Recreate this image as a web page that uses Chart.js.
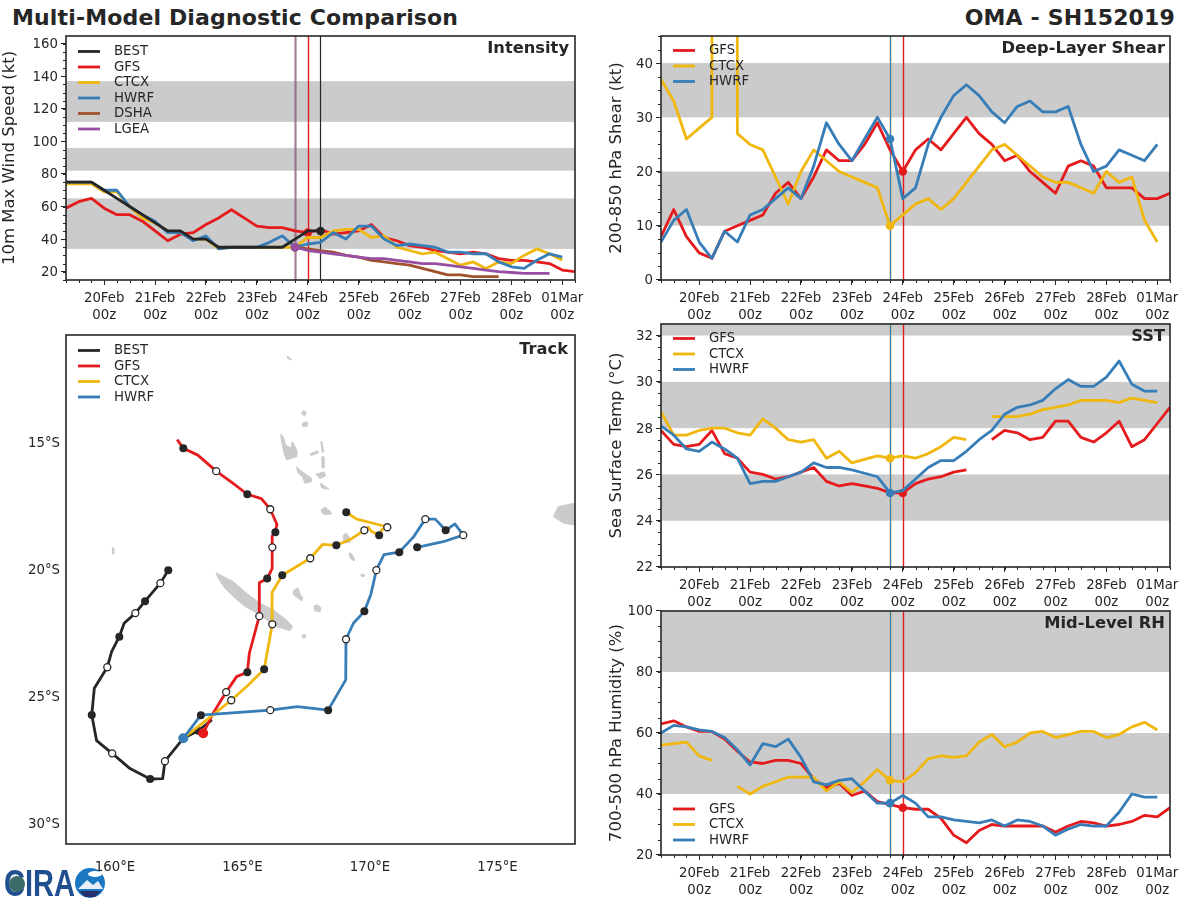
<!DOCTYPE html>
<html>
<head>
<meta charset="utf-8">
<title>Multi-Model Diagnostic Comparison</title>
<script src="https://cdn.jsdelivr.net/npm/chart.js@4"></script>
<style>
  html, body { margin: 0; padding: 0; background: #fff; }
  body { position: relative; width: 1200px; height: 900px; overflow: hidden; font-family: 'DejaVu Sans', sans-serif; color: #262626; }
  canvas { position: absolute; }
  .headline { position: absolute; top: 4px; font-size: 22px; font-weight: bold; line-height: 28px; white-space: nowrap; letter-spacing: 0.15px; }
  #logo { position: absolute; left: 3px; top: 866px; }
</style>
</head>
<body>
<div class="headline" style="left:12px">Multi-Model Diagnostic Comparison</div>
<div class="headline" style="right:25px">OMA - SH152019</div>
<canvas id="intensityChart" style="left:0;top:25px" width="600" height="296"></canvas>
<canvas id="trackChart" style="left:0;top:321px" width="600" height="579"></canvas>
<canvas id="shearChart" style="left:600px;top:25px" width="600" height="296"></canvas>
<canvas id="sstChart" style="left:600px;top:313px" width="600" height="296"></canvas>
<canvas id="rhChart" style="left:600px;top:600px" width="600" height="296"></canvas>
<svg id="logo" width="105" height="33" viewBox="0 0 105 33">
  <text x="1" y="30" font-family="Liberation Sans" font-weight="bold" font-size="37" fill="#1f4f8f" textLength="71" lengthAdjust="spacingAndGlyphs">CIRA</text>
  <circle cx="14" cy="18" r="8" fill="#3d6a6a"/>
  <circle cx="87" cy="17" r="15" fill="#1b79c4"/>
  <ellipse cx="92" cy="8" rx="7" ry="3" fill="#fff"/>
  <path d="M75 23 L84 14 L90 19 L95 15 L100 23 Z" fill="#e8eef5"/>
  <path d="M76 25 H98 L92 31 H82 Z" fill="#27306b"/>
</svg>

<script>
Chart.defaults.font.family = "'DejaVu Sans', sans-serif";
Chart.defaults.font.size = 13.3;
Chart.defaults.color = '#262626';
Chart.defaults.animation = false;

const dark_color = '#262626';
const band_color = '#cbcbcb';
const best_color = '#262626';
const gfs_color = '#e41a1c';
const ctcx_color = '#f0b70e';
const hwrf_color = '#377eb8';
const dsha_color = '#a0522d';
const lgea_color = '#984ea3';

// hours after 20Feb 00z, one value every 6h
const hours = [-18, -12, -6, 0, 6, 12, 18, 24, 30, 36, 42, 48, 54, 60, 66, 72, 78, 84, 90, 96, 102,
  108, 114, 120, 126, 132, 138, 144, 150, 156, 162, 168, 174, 180, 186, 192, 198, 204, 210, 216, 222];
const dayHours = [0, 24, 48, 72, 96, 120, 144, 168, 192, 216];
const dayLabels = ['20Feb', '21Feb', '22Feb', '23Feb', '24Feb', '25Feb', '26Feb', '27Feb', '28Feb', '01Mar'];
const runLabel = '00z';

// Intensity (kt)
const intensity_best = [75, 75, 75, 70, 65, 60, 55, 50, 45, 45, 40, 40, 35, 35, 35, 35, 35, 35, 40, 45, 45];
const intensity_gfs = [59, 63, 65, 59, 55, 55, 51, 45, 39, 43, 44, 49, 53, 58, 53, 48, 47, 47, 45, 44, 46,
  43, 44, 45, 49, 41, 39, 36, 35, 33, 32, 31, 32, 31, 28, 27, 27, 26, 25, 21, 20];
const intensity_ctcx = [74, 74, 74, 69, 69, 60, 53, 50, 45, 44, 40, 40, 34, 35, 35, 35, 35, 35, 35, 41, 41,
  45, 46, 46, 41, 42, 35, 33, 31, 32, 28, 24, 26, 22, 26, 25, 30, 34, 31, 27];
const intensity_hwrf = [75, 75, 75, 70, 70, 60, 55, 51, 44, 44, 39, 42, 34, 35, 35, 35, 38, 42, 35, 37, 38,
  44, 40, 48, 48, 40, 36, 37, 36, 35, 32, 32, 31, 31, 26, 23, 22, 27, 31, 29];
const intensity_dsha = [null, null, null, null, null, null, null, null, null, null, null, null, null, null, null, null, null, null,
  35, 34, 33, 32, 30, 29, 27, 26, 25, 24, 22, 20, 18, 18, 17, 17, 17];
const intensity_lgea = [null, null, null, null, null, null, null, null, null, null, null, null, null, null, null, null, null, null,
  35, 33, 32, 31, 30, 29, 28, 28, 27, 26, 25, 25, 24, 23, 22, 21, 20, 19.5, 19, 19, 19];
const intensity_bands = [[34, 65], [82, 96], [112, 137]];

// Deep-layer shear (kt), 9999 is the missing value flag in the CTCX file
const shear_gfs = [8, 13, 8, 5, 4, 9, 10, 11, 12, 16, 18, 15, 19, 24, 22, 22, 25, 29, 24, 20, 24,
  26, 24, 27, 30, 27, 25, 22, 23, 20, 18, 16, 21, 22, 21, 17, 17, 17, 15, 15, 16];
const shear_ctcx = [37, 33, 26, 28, 30, 9999, 27, 25, 24, 19, 14, 20, 24, 22, 20, 19, 18, 17, 10, 12, 14,
  15, 13, 15, 18, 21, 24, 25, 23, 21, 19, 18, 18, 17, 16, 20, 18, 19, 11, 7];
const shear_hwrf = [7, 11, 13, 7, 4, 9, 7, 12, 13, 15, 17, 15, 21, 29, 25, 22, 26, 30, 26, 15, 17,
  25, 30, 34, 36, 34, 31, 29, 32, 33, 31, 31, 32, 25, 20, 21, 24, 23, 22, 25];
const shear_bands = [[10, 20], [30, 40]];

// SST (deg C)
const sst_gfs = [27.9, 27.3, 27.2, 27.3, 27.9, 26.9, 26.7, 26.1, 26.0, 25.8, 25.9, 26.1, 26.3, 25.7, 25.5, 25.6, 25.5, 25.4, 25.2, 25.2, 25.6,
  25.8, 25.9, 26.1, 26.2, null, 27.5, 27.9, 27.8, 27.5, 27.6, 28.3, 28.3, 27.6, 27.4, 27.8, 28.3, 27.2, 27.5, 28.2, 28.9];
const sst_ctcx = [28.7, 27.7, 27.7, 27.9, 28.0, 28.0, 27.8, 27.7, 28.4, 28.0, 27.5, 27.4, 27.5, 26.7, 27.0, 26.5, 26.65, 26.8, 26.7, 26.8, 26.7,
  26.9, 27.2, 27.6, 27.5, null, 28.5, 28.5, 28.5, 28.6, 28.8, 28.9, 29.0, 29.2, 29.2, 29.2, 29.1, 29.3, 29.2, 29.1];
const sst_hwrf = [28.1, 27.7, 27.1, 27.0, 27.4, 27.1, 26.7, 25.6, 25.7, 25.7, 25.9, 26.1, 26.5, 26.3, 26.3, 26.2, 26.05, 25.9, 25.2, 25.3, 25.8,
  26.3, 26.6, 26.6, 27.0, 27.5, 27.9, 28.6, 28.9, 29.0, 29.2, 29.7, 30.1, 29.8, 29.8, 30.2, 30.9, 29.9, 29.6, 29.6];
const sst_bands = [[24, 26], [28, 30], [32, 33]];

// Mid-level RH (%)
const rh_gfs = [63, 64, 62, 60.5, 60.5, 58, 54, 50.5, 50, 51, 51, 50, 45, 42, 43.5, 39.5, 41, 37.5, 36.5, 35.5, 35,
  35, 32, 26.5, 24, 28, 30, 29.5, 29.5, 29.5, 29.5, 27.5, 29.5, 31, 30.5, 29.5, 30, 31, 33, 32.5, 35.5];
const rh_ctcx = [56, 56.5, 57, 52.5, 51, null, 42.5, 40, 42.5, 44, 45.5, 45.5, 45.5, 41, 44, 40.5, 44, 48, 44.5, 44, 47,
  51.5, 52.5, 52, 52.5, 57, 59.5, 55.5, 57, 60, 60.5, 58.5, 59.5, 60.5, 60.5, 58.5, 59.5, 62, 63.5, 61];
const rh_hwrf = [60, 62.5, 62, 61, 60.5, 58.5, 54.5, 49.5, 56.5, 55.5, 58, 52, 44, 43, 44.5, 45, 41, 37, 37, 39.5, 37,
  32.5, 32.5, 31.5, 31, 30.5, 31.5, 29.5, 31.5, 31, 29.5, 26.5, 28.5, 30, 29.5, 29.5, 34, 40, 39, 39];
const rh_bands = [[40, 60], [80, 100]];

// Track positions, marks: 0 none, 1 filled (00z), 2 open (12z), 3 model start
const best_lon = [162.09, 161.78, 161.18, 160.80, 160.36, 160.17, 159.87, 159.70, 159.19, 159.09, 159.28, 159.89, 160.59, 161.38, 161.87, 161.96, 162.68, 163.27, 163.80];
const best_lat = [-20.05, -20.56, -21.27, -21.74, -22.14, -22.67, -23.26, -23.87, -24.70, -25.75, -26.76, -27.26, -27.86, -28.27, -28.26, -27.57, -26.67, -26.37, -25.94];
const best_marks = [1, 2, 1, 2, 0, 1, 0, 2, 0, 1, 0, 2, 0, 1, 0, 2, 0, 1, 0];

const gfs_lon = [163.46, 163.85, 164.36, 164.77, 165.19, 165.27, 165.66, 165.66, 165.97, 166.17, 166.17, 166.16, 166.29, 166.35, 166.09, 165.74, 165.19, 164.58, 163.97, 163.25, 162.68, 162.44];
const gfs_lat = [-26.47, -25.68, -24.85, -24.24, -24.07, -23.32, -21.86, -20.54, -20.38, -19.97, -19.15, -18.70, -18.56, -18.24, -17.65, -17.23, -17.06, -16.59, -16.15, -15.52, -15.25, -14.91];
const gfs_marks = [3, 0, 2, 0, 1, 0, 2, 0, 1, 0, 2, 0, 1, 0, 2, 0, 1, 0, 2, 0, 1, 0];

const ctcx_lon = [162.68, 164.56, 165.23, 165.85, 166.17, 166.16, 166.56, 167.66, 168.15, 168.68, 169.25, 169.78, 169.93, 170.07, 170.36, 170.46, 170.68, 170.55, 169.48, 169.07];
const ctcx_lat = [-26.67, -25.17, -24.57, -23.95, -22.18, -20.93, -20.25, -19.58, -19.03, -19.07, -18.83, -18.48, -18.36, -18.53, -18.67, -18.46, -18.36, -18.31, -18.04, -17.77];
const ctcx_marks = [0, 2, 0, 1, 2, 0, 1, 2, 0, 1, 0, 2, 0, 0, 1, 0, 2, 0, 0, 1];

const hwrf_lon = [162.68, 163.37, 166.09, 167.15, 168.36, 169.05, 169.06, 169.35, 169.78, 170.03, 170.25, 170.55, 171.15, 171.70, 172.17, 172.56, 172.97, 173.33, 173.66, 172.87, 171.85];
const hwrf_lat = [-26.67, -25.76, -25.56, -25.42, -25.56, -24.37, -22.77, -22.14, -21.67, -21.02, -20.05, -19.44, -19.34, -18.75, -18.04, -18.04, -18.48, -18.23, -18.67, -18.93, -19.15];
const hwrf_marks = [3, 1, 2, 0, 1, 0, 2, 0, 1, 0, 2, 0, 1, 0, 2, 0, 1, 0, 2, 0, 1];

// Land outlines as [lon, lat] lists
const land_polygons = [
  [[163.96, -20.15], [164.25, -20.30], [164.64, -20.50], [165.16, -20.96], [165.69, -21.35], [166.21, -21.61], [166.73, -22.01], [166.97, -22.27], [166.86, -22.43], [166.34, -22.27], [165.95, -22.01], [165.56, -21.74], [165.10, -21.48], [164.64, -21.09], [164.31, -20.76], [164.05, -20.37]],
  [[167.02, -20.83], [167.18, -20.75], [167.25, -20.98], [167.37, -21.14], [167.33, -21.26], [167.10, -21.10], [166.98, -20.98]],
  [[167.80, -21.46], [167.96, -21.42], [168.08, -21.54], [168.04, -21.69], [167.84, -21.65]],
  [[167.33, -22.60], [167.49, -22.60], [167.45, -22.72], [167.37, -22.72]],
  [[159.90, -19.17], [159.96, -19.17], [159.96, -19.41], [159.90, -19.41]],
  [[166.50, -14.70], [166.60, -14.79], [166.69, -15.12], [166.90, -15.25], [166.95, -14.99], [167.03, -15.12], [167.15, -15.38], [167.13, -15.58], [166.93, -15.64], [166.73, -15.71], [166.63, -15.44], [166.54, -15.05]],
  [[167.13, -15.97], [167.25, -16.10], [167.42, -16.23], [167.71, -16.43], [167.71, -16.56], [167.45, -16.63], [167.35, -16.37], [167.15, -16.19]],
  [[167.65, -15.47], [167.96, -15.35], [167.97, -15.43], [167.69, -15.54]],
  [[168.07, -14.99], [168.12, -14.99], [168.18, -15.39], [168.14, -15.43]],
  [[168.11, -15.58], [168.20, -15.59], [168.21, -16.02], [168.12, -16.02]],
  [[167.87, -16.27], [168.20, -16.18], [168.26, -16.34], [168.04, -16.44]],
  [[168.07, -16.63], [168.20, -16.73], [168.39, -16.85], [168.20, -16.85], [168.08, -16.77]],
  [[167.31, -13.86], [167.41, -13.76], [167.51, -13.86], [167.43, -13.98]],
  [[167.33, -14.29], [167.45, -14.21], [167.57, -14.25], [167.53, -14.39], [167.37, -14.39]],
  [[166.75, -11.63], [166.86, -11.69], [166.92, -11.77], [166.78, -11.73]],
  [[168.08, -17.68], [168.24, -17.56], [168.43, -17.72], [168.51, -17.83], [168.27, -17.87], [168.12, -17.80]],
  [[168.94, -18.70], [169.06, -18.58], [169.18, -18.74], [169.22, -18.94], [168.98, -18.98]],
  [[169.18, -19.37], [169.29, -19.41], [169.41, -19.65], [169.37, -19.69], [169.22, -19.57]],
  [[169.65, -20.20], [169.80, -20.24], [169.76, -20.31], [169.65, -20.28]],
  [[177.19, -17.94], [177.38, -17.55], [178.02, -17.41], [178.02, -18.27], [177.58, -18.20]]
];

// draws bands, land, vertical lines, minor ticks, spines, panel title and legend
function panelPlugin(cfg) {
  return {
    id: 'panel',
    beforeDatasetsDraw(chart) {
      const { ctx, chartArea: a, scales: { x, y } } = chart;
      ctx.save();
      ctx.fillStyle = band_color;
      ctx.strokeStyle = band_color;
      ctx.lineWidth = 1;
      (cfg.bands || []).forEach(b => {
        const top = Math.max(y.getPixelForValue(b[1]), a.top);
        ctx.fillRect(a.left, top, a.right - a.left, y.getPixelForValue(b[0]) - top);
      });
      (cfg.land || []).forEach(poly => {
        ctx.beginPath();
        poly.forEach((p, i) => {
          const px = x.getPixelForValue(p[0]);
          const py = y.getPixelForValue(p[1]);
          if (i === 0) ctx.moveTo(px, py); else ctx.lineTo(px, py);
        });
        ctx.closePath();
        ctx.fill();
        ctx.stroke();
      });
      (cfg.vlines || []).forEach(v => {
        const px = Math.round(x.getPixelForValue(v.hour) - 0.1) + 0.5;
        ctx.strokeStyle = v.color;
        ctx.lineWidth = v.width || 1.4;
        ctx.beginPath();
        ctx.moveTo(px, a.top);
        ctx.lineTo(px, a.bottom);
        ctx.stroke();
      });
      ctx.restore();
    },
    afterDatasetsDraw(chart) {
      const { ctx, chartArea: a, scales: { x, y } } = chart;
      ctx.save();
      ctx.strokeStyle = dark_color;
      ctx.lineWidth = 1;
      if (cfg.minorStep) {
        ctx.beginPath();
        hours.forEach(h => {
          const px = Math.round(x.getPixelForValue(h)) + 0.5;
          ctx.moveTo(px, a.bottom);
          ctx.lineTo(px, a.bottom + 3);
        });
        for (let v = y.min; v <= y.max; v += 0.01) {
          const r = Math.round(v * 100) / 100;
          if (Math.abs(r / cfg.minorStep - Math.round(r / cfg.minorStep)) < 1e-6) {
            const py = Math.round(y.getPixelForValue(r)) + 0.5;
            ctx.moveTo(a.left - 3, py);
            ctx.lineTo(a.left, py);
          }
        }
        ctx.stroke();
      }
      ctx.lineWidth = 1.6;
      ctx.strokeRect(a.left, a.top, a.right - a.left, a.bottom - a.top);

      ctx.fillStyle = dark_color;
      ctx.font = "bold 16.3px 'DejaVu Sans', sans-serif";
      ctx.textAlign = 'right';
      ctx.textBaseline = 'middle';
      ctx.fillText(cfg.title, a.right - (cfg.titleRight || 5), a.top + cfg.titleOffset);

      ctx.font = "13.3px 'DejaVu Sans', sans-serif";
      ctx.textAlign = 'left';
      chart.data.datasets.forEach((ds, i) => {
        const ly = a.top + cfg.legendTop + i * 15.5;
        ctx.strokeStyle = ds.borderColor;
        ctx.lineWidth = 2.8;
        ctx.beginPath();
        ctx.moveTo(a.left + 12, ly);
        ctx.lineTo(a.left + 34, ly);
        ctx.stroke();
        ctx.fillText(ds.label, a.left + 48, ly + 0.5);
      });
      ctx.restore();
    }
  };
}

function line(label, color, values, markAt, zorder) {
  return {
    label: label,
    data: values.map((v, i) => ({ x: hours[i], y: v })),
    borderColor: color,
    backgroundColor: color,
    borderWidth: 2.8,
    borderJoinStyle: 'round',
    tension: 0,
    spanGaps: false,
    pointBorderWidth: 0,
    pointRadius: (c) => c.dataIndex === markAt ? 4.3 : 0,
    order: zorder
  };
}

function hourAxis(axisHeight) {
  return {
    type: 'linear',
    min: -18,
    max: 222,
    grid: { drawOnChartArea: false, tickLength: 5, tickColor: dark_color },
    border: { display: false },
    afterBuildTicks: (s) => { s.ticks = dayHours.map(h => ({ value: h })); },
    ticks: {
      autoSkip: false,
      maxRotation: 0,
      padding: 5,
      font: { lineHeight: 1.28 },
      callback: (v) => [dayLabels[dayHours.indexOf(v)], runLabel]
    },
    afterFit: (s) => { s.height = axisHeight; }
  };
}

function valueAxis(title, min, max, step, width, titlePad) {
  return {
    min: min,
    max: max,
    grid: { drawOnChartArea: false, tickLength: 5, tickColor: dark_color },
    border: { display: false },
    ticks: { stepSize: step, includeBounds: false, padding: 3, labelOffset: 1 },
    title: { display: true, text: title, font: { size: 16.5 }, color: dark_color, padding: { top: titlePad, bottom: 0 } },
    afterFit: (s) => { s.width = width; }
  };
}

function timeChart(id, datasets, yAxis, cfg, rightPad, axisHeight) {
  return new Chart(document.getElementById(id), {
    type: 'scatter',
    data: { datasets: datasets.map(d => Object.assign(d, { showLine: true })) },
    options: {
      responsive: false,
      layout: { autoPadding: false, padding: { top: 5, right: rightPad, left: 0, bottom: 0 } },
      plugins: { legend: { display: false }, tooltip: { enabled: false } },
      scales: { x: hourAxis(axisHeight), y: yAxis }
    },
    plugins: [panelPlugin(cfg)]
  });
}

timeChart('intensityChart', [
  line('BEST', best_color, intensity_best, 20, 0),
  line('GFS', gfs_color, intensity_gfs, 19, 5),
  line('CTCX', ctcx_color, intensity_ctcx, 18, 4),
  line('HWRF', hwrf_color, intensity_hwrf, 18, 3),
  line('DSHA', dsha_color, intensity_dsha, 18, 2),
  line('LGEA', lgea_color, intensity_lgea, 18, 1)
], valueAxis('10m Max Wind Speed (kt)', 14.9, 164.7, 20, 66, 0), {
  title: 'Intensity', titleOffset: 13, titleRight: 6, legendTop: 15.5, minorStep: 5, bands: intensity_bands,
  vlines: [
    { hour: 90, color: 'rgba(55,126,184,0.3)', width: 2 },
    { hour: 90, color: 'rgba(160,82,45,0.45)', width: 2 }, { hour: 90, color: 'rgba(152,78,163,0.35)', width: 2 },
    { hour: 96, color: gfs_color }, { hour: 102, color: best_color, width: 1.2 }
  ]
}, 25, 41);

const modelLines = [
  { hour: 90, color: 'rgba(240,183,14,0.4)', width: 2 }, { hour: 90, color: hwrf_color, width: 1.2 },
  { hour: 96, color: gfs_color }
];

timeChart('shearChart', [
  line('GFS', gfs_color, shear_gfs, 19, 2),
  line('CTCX', ctcx_color, shear_ctcx, 18, 1),
  line('HWRF', hwrf_color, shear_hwrf, 18, 0)
], valueAxis('200-850 hPa Shear (kt)', 0, 45, 10, 61, 7), {
  title: 'Deep-Layer Shear', titleOffset: 13, legendTop: 14.5, minorStep: 2.5, bands: shear_bands, vlines: modelLines
}, 30, 41);

timeChart('sstChart', [
  line('GFS', gfs_color, sst_gfs, 19, 2),
  line('CTCX', ctcx_color, sst_ctcx, 18, 1),
  line('HWRF', hwrf_color, sst_hwrf, 18, 0)
], valueAxis('Sea Surface Temp (\u00b0C)', 22, 32.5, 2, 61, 7), {
  title: 'SST', titleOffset: 13, legendTop: 14.5, minorStep: 0.5, bands: sst_bands, vlines: modelLines
}, 30, 42);

timeChart('rhChart', [
  line('GFS', gfs_color, rh_gfs, 19, 2),
  line('CTCX', ctcx_color, rh_ctcx, 18, 1),
  line('HWRF', hwrf_color, rh_hwrf, 18, 0)
], valueAxis('700-500 hPa Humidity (%)', 20, 100, 20, 61, 7), {
  title: 'Mid-Level RH', titleOffset: 13, legendTop: 198, minorStep: 5, bands: rh_bands, vlines: modelLines
}, 30, 41);

function track(label, color, lons, lats, marks, zorder) {
  return {
    label: label,
    data: lons.map((v, i) => ({ x: v, y: lats[i] })),
    showLine: true,
    borderColor: color,
    borderWidth: 2.8,
    borderJoinStyle: 'round',
    tension: 0,
    pointRadius: (c) => [0, 4, 3.5, 5][marks[c.dataIndex]],
    pointBackgroundColor: (c) => ['', dark_color, '#fff', color][marks[c.dataIndex]],
    pointBorderColor: dark_color,
    pointBorderWidth: (c) => marks[c.dataIndex] === 2 ? 1.3 : 0,
    order: zorder
  };
}

new Chart(document.getElementById('trackChart'), {
  type: 'scatter',
  data: {
    datasets: [
      track('BEST', best_color, best_lon, best_lat, best_marks, 3),
      track('GFS', gfs_color, gfs_lon, gfs_lat, gfs_marks, 2),
      track('CTCX', ctcx_color, ctcx_lon, ctcx_lat, ctcx_marks, 1),
      track('HWRF', hwrf_color, hwrf_lon, hwrf_lat, hwrf_marks, 0)
    ]
  },
  options: {
    responsive: false,
    layout: { autoPadding: false, padding: { top: 6, right: 25, left: 0, bottom: 0 } },
    plugins: { legend: { display: false }, tooltip: { enabled: false } },
    scales: {
      x: {
        type: 'linear',
        min: 158.08,
        max: 178.04,
        grid: { drawOnChartArea: false, drawTicks: false },
        border: { display: false },
        ticks: { stepSize: 5, includeBounds: false, padding: 16, callback: (v) => v + '\u00b0E' },
        afterFit: (s) => { s.height = 56; }
      },
      y: {
        type: 'linear',
        min: -30.83,
        max: -10.79,
        grid: { drawOnChartArea: false, drawTicks: false },
        border: { display: false },
        ticks: { stepSize: 5, includeBounds: false, padding: 6, labelOffset: 2, callback: (v) => Math.abs(v) + '\u00b0S' },
        afterFit: (s) => { s.width = 66; }
      }
    }
  },
  plugins: [panelPlugin({ title: 'Track', titleOffset: 15, titleRight: 7, legendTop: 15.5, land: land_polygons })]
});
</script>
</body>
</html>
